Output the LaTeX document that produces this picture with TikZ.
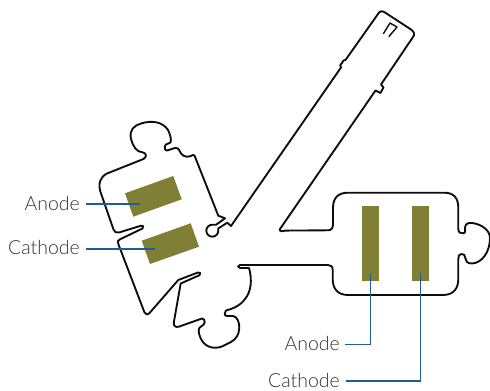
\documentclass[tikz,border=0pt]{standalone}
\usepackage{fontspec}
\setmainfont{Lato Light}[BoldFont=Lato]
\definecolor{leader}{HTML}{1F5C99}
\definecolor{pad}{HTML}{7F8035}
\definecolor{lab}{HTML}{333333}
\tikzset{
  outline/.style={draw=black!95,line width=1.4pt,line join=round,line cap=round},
  padbox/.style={fill=pad,draw=none},
  leaderline/.style={draw=leader,line width=0.8pt},
  lbl/.style={text=lab,font=\fontsize{14.6}{16}\selectfont,inner sep=0pt}
}
\begin{document}
\begin{tikzpicture}[x=0.75pt,y=-0.75pt]
\useasboundingbox (0,0) rectangle (490,391);
% pads
\fill[padbox] (125,193.3) -- (173.3,176) -- (181.7,199.3) -- (133.3,216.7) -- cycle;
\fill[padbox] (141.7,240.7) -- (190.7,223.3) -- (199,246.7) -- (150,264) -- cycle;
\fill[padbox] (361.7,206) rectangle (379.3,281.3);
\fill[padbox] (411.7,206) rectangle (429.3,281.3);
% outline
\draw[outline]
 (280,229)
 .. controls (279,231.5) and (282,231.5) .. (285,230.6)
 -- (328,230.3) .. controls (331.5,230.3) and (333,228) .. (333,224)
 -- (333,208) .. controls (333,198) and (338,192.7) .. (348,192.7)
 -- (444,192.7) .. controls (454,192.7) and (458.3,198) .. (458.3,208)
 -- (458.3,229) .. controls (458.3,233) and (461,233.3) .. (463,233.3)
 .. controls (466,233.3) and (465,230) .. (465,228)
 .. controls (465,224) and (468,222.5) .. (472,223)
 .. controls (481,224) and (490,230) .. (490,238)
 .. controls (490,252) and (482,263) .. (472,263.5)
 .. controls (467,263.5) and (465.5,261) .. (465.3,258)
 .. controls (465,255) and (464,254) .. (461.5,254)
 .. controls (459,254) and (458.3,256) .. (458.3,259)
 -- (458.3,279) .. controls (458.3,289) and (453,295) .. (443,295)
 -- (348,295) .. controls (338,295) and (332.7,289) .. (332.7,279)
 -- (332.7,270) .. controls (332.7,266.5) and (331,265) .. (328,265)
 -- (240,265) .. controls (237.5,265) and (237.5,268) .. (240,268)
 -- (249,268) .. controls (252.5,280) and (251,292) .. (245,299)
 .. controls (240,306) and (232,309) .. (226,310.5)
 .. controls (224,312) and (224,316) .. (227,316)
 -- (233,316) .. controls (237,316.5) and (239.5,322) .. (239.3,328)
 .. controls (239,335) and (236,339) .. (231,342)
 -- (222,346.5) .. controls (212,350) and (204,346) .. (200.5,338)
 .. controls (198,332) and (198,328) .. (201,326.5)
 .. controls (205.5,325) and (206,319) .. (202,318.5)
 -- (178.5,326.8) .. controls (175,327.5) and (173.5,325.5) .. (173.8,322.5)
 -- (180.7,283.5) -- (199.5,275.2) .. controls (201.5,274) and (200,271.5) .. (198,272.5)
 -- (178.3,280) -- (150,312.5) .. controls (148,315) and (145.5,315) .. (144.5,312.5)
 -- (118.5,244.5) .. controls (117.5,241) and (118,240) .. (120,239.3)
 -- (142.5,228.5) .. controls (144.5,227) and (143,225) .. (141,225.7)
 -- (119,232.5) .. controls (116,233) and (114.5,232) .. (113.5,229.5)
 -- (100.5,192) .. controls (98,184) and (100,177) .. (107,173.5)
 -- (143.5,159) .. controls (147,157) and (146.5,153) .. (143,152.5)
 .. controls (136,152) and (133,146) .. (131,139)
 .. controls (129,130) and (134,125.5) .. (141,123.5)
 .. controls (152,120) and (163,122) .. (168,130)
 .. controls (170.5,135) and (171.5,140) .. (170.5,142.5)
 -- (166,144.5) .. controls (164,146) and (164.5,151) .. (167,150.5)
 -- (175,148) .. controls (179,147.5) and (179.5,151) .. (181,153.5)
 .. controls (184,157.5) and (189,157.5) .. (193,155)
 -- (194.5,155.5) -- (218.3,215.7) -- (225,218.3) -- (216,224.8)
 % lollipop head
 .. controls (215,224.9) and (214,224.7) .. (212.3,224.7)
 .. controls (209,224.7) and (206.3,227.4) .. (206.3,230.7)
 .. controls (206.3,234) and (209,236.7) .. (212.3,236.7)
 .. controls (215.6,236.7) and (218.3,234) .. (218.3,230.7)
 -- (218.2,228.5) -- (227.3,222.7) -- (231,226)
 % long arm
 -- (341,67.5) -- (340.3,65) .. controls (342,64) and (342.5,61.5) .. (343.5,60.5) -- (345.5,60)
 -- (378,14) .. controls (379.5,11) and (382,10.5) .. (385,12.5)
 -- (411,29.5) .. controls (414.5,32) and (414.8,34.5) .. (413,37)
 -- (381,84.5) -- (383.5,87.5) -- (380.5,93) -- (375.5,90.5) -- (280,229);
% slot mark
\draw[outline,line width=1.05pt] (383.5,33.5) -- (390,23) -- (397,27) -- (389,36.5);
% labels and leaders
\node[lbl,anchor=east] (a1) at (80,203) {Anode};
\node[lbl,anchor=east] (c1) at (80,248) {Cathode};
\node[lbl,anchor=east] (a2) at (340,343) {Anode};
\node[lbl,anchor=east] (c2) at (340,381) {Cathode};
\coordinate (a1t) at (139.5,204);
\coordinate (c1t) at (155,249);
\coordinate (a2t) at (370.5,273);
\coordinate (c2t) at (420.7,273);
\draw[leaderline] (a1.east) ++(6,1) -- (a1t);
\draw[leaderline] (c1.east) ++(6,1) -- (c1t);
\draw[leaderline] (a2.east) ++(5,1.5) -| (a2t);
\draw[leaderline] (c2.east) ++(6,0) -| (c2t);
\end{tikzpicture}
\end{document}
